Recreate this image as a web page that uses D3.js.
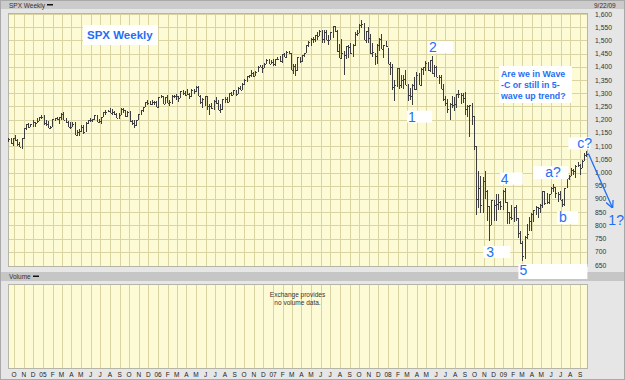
<!DOCTYPE html>
<html>
<head>
<meta charset="utf-8">
<script src="https://cdn.jsdelivr.net/npm/d3@7"></script>
<style>
  body { margin: 0; background: #e6e6e6; }
  svg { display: block; font-family: "Liberation Sans", Arial, sans-serif; }
</style>
</head>
<body>
<svg id="chart" width="625" height="380"></svg>
<script>
// weekly SPX bars as [high, low, close], one per week starting Mon 13 Sep 2004
const bars2004 = [
  [1130,1114,1128],[1130,1108,1110],[1131,1101,1131],[1142,1120,1122],[1127,1102,1108],
  [1115,1095,1095],[1131,1090,1130],[1170,1128,1167],[1185,1162,1185],[1188,1170,1171],
  [1183,1171,1182],[1197,1173,1191],[1192,1173,1189],[1207,1187,1195],[1211,1195,1210],
  [1217,1204,1212]
];
const bars2005 = [
  [1217,1180,1186],[1197,1175,1184],[1195,1167,1168],[1175,1163,1171],[1204,1171,1203],
  [1208,1195,1206],[1212,1199,1201],[1212,1184,1211],[1224,1198,1222],[1229,1199,1200],
  [1205,1186,1190],[1194,1172,1172],[1191,1166,1172],[1192,1171,1182],[1190,1141,1143],
  [1160,1137,1153],[1163,1139,1157],[1178,1155,1171],[1178,1146,1154],[1192,1153,1189],
  [1198,1185,1198],[1205,1190,1197],[1201,1191,1201],[1219,1199,1217],[1219,1190,1191],
  [1203,1188,1194],[1212,1183,1212],[1229,1209,1228],[1237,1219,1229],[1237,1228,1234],
  [1245,1225,1226],[1242,1219,1230],[1232,1216,1220],[1224,1205,1205],[1227,1201,1218],
  [1243,1216,1241],[1243,1227,1238],[1238,1212,1215],[1233,1211,1229],[1233,1192,1195],
  [1198,1180,1187],[1197,1170,1180],[1200,1176,1199],[1222,1199,1220],[1235,1218,1235],
  [1249,1230,1248],[1268,1248,1268],[1273,1256,1265],[1272,1254,1259],[1275,1256,1268],
  [1272,1256,1268],[1271,1248,1248]
];
const bars2006 = [
  [1286,1245,1285],[1295,1283,1288],[1290,1260,1261],[1286,1260,1284],[1295,1262,1264],
  [1274,1253,1267],[1293,1261,1290],[1295,1282,1290],[1298,1276,1288],[1288,1268,1282],
  [1310,1282,1307],[1311,1295,1302],[1310,1291,1295],[1315,1294,1296],[1300,1280,1289],
  [1318,1285,1311],[1316,1297,1310],[1326,1303,1325],[1326,1290,1291],[1294,1258,1267],
  [1282,1245,1280],[1290,1253,1288],[1290,1235,1253],[1258,1219,1251],[1263,1240,1245],
  [1275,1237,1270],[1284,1261,1265],[1274,1235,1237],[1261,1224,1240],[1280,1238,1279],
  [1287,1265,1280],[1284,1262,1267],[1302,1266,1302],[1306,1290,1295],[1312,1294,1311],
  [1314,1291,1298],[1322,1297,1321],[1329,1311,1314],[1340,1314,1336],[1353,1331,1349],
  [1366,1344,1366],[1369,1357,1368],[1389,1362,1377],[1381,1360,1364],[1385,1364,1380],
  [1403,1379,1401],[1406,1398,1400],[1407,1377,1396],[1415,1394,1409],[1431,1409,1427],
  [1430,1410,1410],[1427,1410,1418]
];
const bars2007 = [
  [1429,1403,1409],[1431,1404,1431],[1437,1427,1430],[1441,1420,1423],[1449,1416,1448],
  [1452,1437,1438],[1460,1433,1456],[1461,1448,1451],[1452,1387,1387],[1410,1374,1402],
  [1412,1364,1387],[1438,1386,1437],[1438,1413,1421],[1445,1419,1444],[1453,1437,1452],
  [1484,1451,1484],[1498,1476,1494],[1510,1480,1505],[1513,1491,1505],[1522,1495,1522],
  [1532,1500,1515],[1540,1516,1536],[1540,1490,1507],[1538,1492,1533],[1540,1502,1503],
  [1522,1484,1503],[1532,1503,1530],[1555,1510,1553],[1556,1530,1534],[1539,1456,1459],
  [1488,1433,1433],[1504,1429,1453],[1460,1370,1445],[1480,1430,1479],[1481,1432,1474],
  [1490,1450,1454],[1485,1439,1484],[1530,1477,1525],[1538,1518,1527],[1561,1527,1557],
  [1576,1546,1561],[1565,1500,1500],[1536,1490,1535],[1552,1491,1509],[1524,1450,1453],
  [1492,1438,1458],[1453,1406,1440],[1488,1409,1481],[1510,1460,1504],[1523,1467,1467],
  [1484,1435,1484],[1499,1475,1478]
];
const bars2008 = [
  [1471,1411,1411],[1418,1370,1401],[1410,1312,1325],[1350,1270,1331],[1396,1325,1396],
  [1396,1317,1331],[1368,1320,1349],[1368,1317,1353],[1388,1330,1331],[1335,1272,1294],
  [1321,1273,1288],[1335,1257,1330],[1360,1313,1316],[1380,1312,1370],[1378,1330,1333],
  [1395,1327,1390],[1399,1370,1398],[1422,1383,1414],[1420,1384,1389],[1426,1382,1425],
  [1440,1374,1375],[1406,1362,1400],[1404,1360,1361],[1370,1335,1360],[1370,1317,1318],
  [1336,1272,1278],[1290,1252,1262],[1280,1225,1239],[1263,1200,1261],[1290,1245,1257],
  [1285,1234,1260],[1297,1246,1296],[1313,1281,1298],[1300,1261,1292],[1300,1263,1283],
  [1303,1217,1242],[1256,1212,1252],[1255,1133,1255],[1265,1180,1213],[1214,1086,1099],
  [1100,839,900],[1007,865,940],[985,845,876],[984,845,968],[1007,899,930],
  [934,818,873],[874,741,800],[896,800,896],[897,815,876],[919,818,879],
  [918,857,887],[892,857,872]
];
const bars2009 = [
  [934,858,931],[943,886,890],[890,804,850],[851,804,832],[877,822,826],
  [870,812,869],[876,818,826],[827,754,770],[780,731,735],[741,667,683],
  [758,672,757],[804,749,769],[832,779,816],[845,779,843],[857,814,857],
  [875,838,870],[871,826,866],[879,846,877],[930,866,929],[930,878,883],
  [924,879,887],[920,880,919],[945,918,940],[956,925,946],[946,903,921],
  [928,888,918],[931,896,896],[898,869,879],[943,875,941],[979,940,979],
  [990,970,987],[1018,988,1010],[1013,990,1004],[1027,978,1026],[1040,1020,1028],
  [1031,992,1016],[1048,1016,1042],[1074,1042,1068],[1080,1060,1071]
];

const priceTicks = d3.range(650, 1601, 50);
const monthLetters = ["J","F","M","A","M","J","J","A","S","O","N","D"];

// wave count notes: point they label, offset of the white box, box size, text inset
const waveNotes = [
  { text: "1",  date: new Date(2008, 2, 17), value: 1257, dx: -5,  dy: 6,   w: 25, h: 12, tx: 1 },
  { text: "2",  date: new Date(2008, 4, 19), value: 1440, dx: -4,  dy: -15, w: 25, h: 12, tx: 1 },
  { text: "3",  date: new Date(2008, 10, 17), value: 741, dx: -6,  dy: 5,   w: 27, h: 12, tx: 3 },
  { text: "4",  date: new Date(2009, 0, 5),  value: 943,  dx: -5,  dy: -15, w: 23, h: 12, tx: 1 },
  { text: "5",  date: new Date(2009, 2, 2),  value: 667,  dx: -4,  dy: 3.5, w: 69, h: 15, tx: 1 },
  { text: "a?", date: new Date(2009, 5, 8),  value: 956,  dx: -20, dy: -18, w: 35, h: 13, tx: 12 },
  { text: "b",  date: new Date(2009, 6, 6),  value: 869,  dx: -5,  dy: 4,   w: 21, h: 13, tx: 2 },
  { text: "c?", date: new Date(2009, 8, 21), value: 1080, dx: -18, dy: -14, w: 22, h: 12, tx: 9 }
];
const questionLines = ["Are we in Wave", "-C or still in 5-", "wave up trend?"];

const allBars = [].concat(bars2004, bars2005, bars2006, bars2007, bars2008, bars2009);
const weeks = d3.timeMonday.range(new Date(2004, 8, 13), new Date(2009, 8, 22));
const data = weeks.slice(0, allBars.length).map((d, i) => ({
  date: d, high: allBars[i][0], low: allBars[i][1], close: allBars[i][2]
}));

const W = 625, H = 380;
const plot = { left: 8, right: 587, top: 13, bottom: 266 };
const vol = { top: 284, bottom: 368 };
const blue = "#1f6ff2";

const svg = d3.select("#chart");

const x = d3.scaleTime()
  .domain([new Date(2004, 8, 12), new Date(2009, 8, 23)])
  .range([plot.left, plot.right]);
const y = d3.scaleLinear().domain([650, 1600]).range([265, 14]);

// background and frames
svg.append("rect").attr("fill", "#e6e6e6")
  .attr("stroke", "#a9a9a9").attr("x", 0.5).attr("y", 0.5)
  .attr("width", W - 1).attr("height", H - 1);
svg.append("rect").attr("x", 1).attr("y", 1).attr("width", W - 2).attr("height", 8)
  .attr("fill", "#cbcbcb");
svg.append("text").attr("x", 9).attr("y", 7.5).attr("font-size", 6.5).attr("fill", "#333")
  .text("SPX Weekly");
svg.append("rect").attr("x", 47).attr("y", 4).attr("width", 6).attr("height", 1.5).attr("fill", "#111");
svg.append("text").attr("x", 594).attr("y", 7.5).attr("font-size", 6.5).attr("fill", "#333")
  .text("9/22/09");

svg.append("rect").attr("x", 1).attr("y", 272).attr("width", W - 2).attr("height", 9)
  .attr("fill", "#c6c6c6");
svg.append("text").attr("x", 9).attr("y", 279).attr("font-size", 6.5).attr("fill", "#333")
  .text("Volume");
svg.append("rect").attr("x", 33).attr("y", 275.5).attr("width", 6).attr("height", 1.5).attr("fill", "#111");

const panelFill = "#fdfbd6", gridCol = "#dad3a2";

[[plot.top, plot.bottom], [vol.top, vol.bottom]].forEach(([t, b]) => {
  svg.append("rect").attr("x", plot.left + 0.5).attr("y", t + 0.5)
    .attr("width", plot.right - plot.left).attr("height", b - t)
    .attr("fill", panelFill).attr("stroke", "#b5b5a8");
});

const months = d3.timeMonth.range(new Date(2004, 9, 1), new Date(2009, 8, 2));

const grid = svg.append("g").attr("stroke", gridCol).attr("shape-rendering", "crispEdges");
grid.selectAll(".hg").data(priceTicks.slice(1)).join("line")
  .attr("x1", plot.left + 1).attr("x2", plot.right)
  .attr("y1", d => Math.round(y(d)) + 0.5).attr("y2", d => Math.round(y(d)) + 0.5);
grid.selectAll(".vg").data(months).join("line")
  .attr("x1", d => Math.round(x(d)) + 0.5).attr("x2", d => Math.round(x(d)) + 0.5)
  .attr("y1", plot.top + 1).attr("y2", plot.bottom);
grid.selectAll(".vv").data(months).join("line")
  .attr("x1", d => Math.round(x(d)) + 0.5).attr("x2", d => Math.round(x(d)) + 0.5)
  .attr("y1", vol.top + 1).attr("y2", vol.bottom);

// price bars (high-low with close tick)
const barsG = svg.append("g").attr("stroke", "#3e3e3e").attr("shape-rendering", "crispEdges");
barsG.selectAll(".hl").data(data).join("line")
  .attr("x1", d => Math.round(x(d.date)) + 0.5).attr("x2", d => Math.round(x(d.date)) + 0.5)
  .attr("y1", d => y(d.high)).attr("y2", d => y(d.low));
barsG.selectAll(".cl").data(data).join("line")
  .attr("x1", d => Math.round(x(d.date)) + 1).attr("x2", d => Math.round(x(d.date)) + 2)
  .attr("y1", d => Math.round(y(d.close)) + 0.5).attr("y2", d => Math.round(y(d.close)) + 0.5);

// right axis labels
svg.append("g").selectAll("text").data(priceTicks).join("text")
  .attr("x", 595).attr("y", d => y(d) + 2.5)
  .attr("font-size", 6.8).attr("fill", "#333")
  .text(d => d3.format(",")(d));

// month labels
svg.append("g").selectAll("text").data(months).join("text")
  .attr("x", d => x(d)).attr("y", 377)
  .attr("text-anchor", "middle").attr("font-size", 6.5).attr("fill", "#222")
  .text(d => d.getMonth() === 0 ? d3.timeFormat("%y")(d) : monthLetters[d.getMonth()]);

// volume panel note
const midX = (plot.left + plot.right) / 2;
["Exchange provides", "no volume data."].forEach((t, i) => {
  svg.append("text").attr("x", midX).attr("y", 297 + i * 8).attr("text-anchor", "middle")
    .attr("font-size", 6.5).attr("fill", "#333").text(t);
});

// title box
svg.append("rect").attr("x", 83).attr("y", 25).attr("width", 75).attr("height", 20).attr("fill", "#fff");
svg.append("text").attr("x", 87).attr("y", 38.5).attr("font-size", 11.5).attr("font-weight", "bold")
  .attr("fill", blue).text("SPX Weekly");

// question box
svg.append("rect").attr("x", 499).attr("y", 66).attr("width", 73).attr("height", 37).attr("fill", "#fff");
questionLines.forEach((t, i) => {
  svg.append("text").attr("x", 501).attr("y", 77 + i * 11).attr("font-size", 8.8)
    .attr("font-weight", "bold").attr("fill", blue).text(t);
});

// wave labels
const notes = svg.append("g");
waveNotes.forEach(n => {
  const bx = x(n.date) + n.dx, by = y(n.value) + n.dy;
  notes.append("rect").attr("x", bx).attr("y", by).attr("width", n.w).attr("height", n.h).attr("fill", "#fff");
  notes.append("text").attr("x", bx + n.tx).attr("y", by + 11).attr("font-size", 14)
    .attr("fill", blue).text(n.text);
});

// projected arrow from the c? top
const cNote = waveNotes[waveNotes.length - 1];
const cx0 = x(cNote.date), cy0 = y(cNote.value);
svg.append("defs").append("marker").attr("id", "arrowHead")
  .attr("viewBox", "0 0 10 10").attr("refX", 9).attr("refY", 5)
  .attr("markerWidth", 6).attr("markerHeight", 6).attr("orient", "auto")
  .append("path").attr("d", "M0,0 L10,5 L0,10").attr("fill", "none").attr("stroke", blue).attr("stroke-width", 1.6);
svg.append("line").attr("x1", cx0 + 2).attr("y1", cy0 + 2).attr("x2", cx0 + 26).attr("y2", cy0 + 56)
  .attr("stroke", blue).attr("stroke-width", 1.3).attr("marker-end", "url(#arrowHead)");
svg.append("text").attr("x", cx0 + 22).attr("y", cy0 + 74).attr("font-size", 14)
  .attr("fill", blue).text("1?");
</script>
</body>
</html>
